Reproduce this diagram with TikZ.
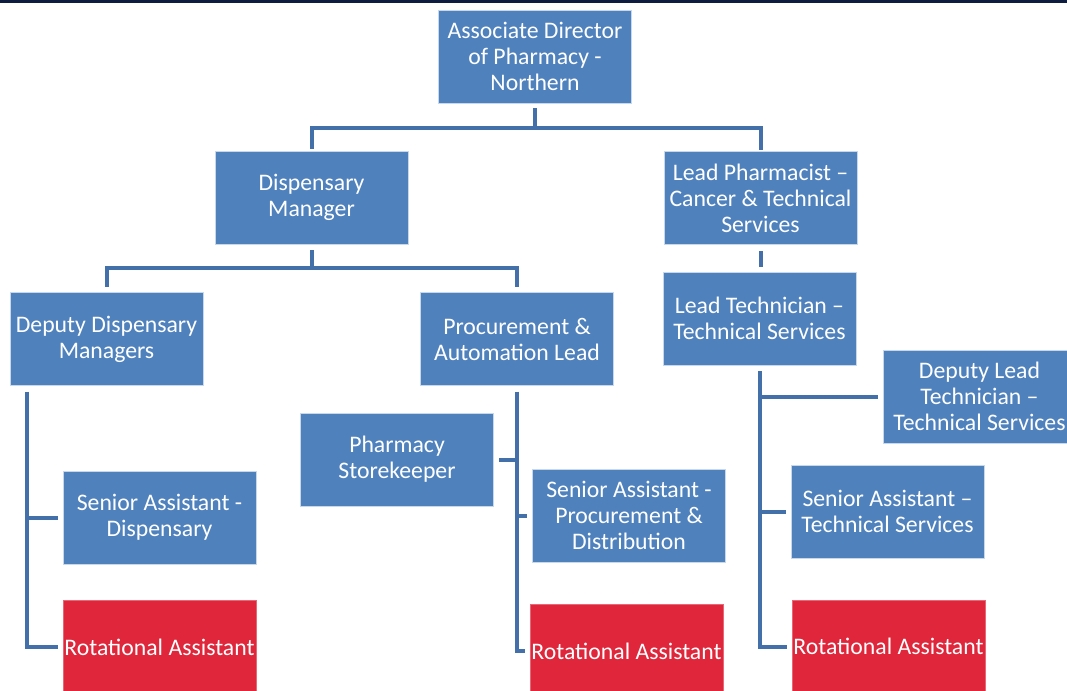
\documentclass[tikz,border=0pt]{standalone}
\usepackage{fontspec}
\setmainfont{Carlito}
\usetikzlibrary{calc}

\definecolor{boxblue}{RGB}{79,129,189}
\definecolor{boxred}{RGB}{224,38,58}
\definecolor{linkblue}{RGB}{68,112,170}
\definecolor{rimblue}{RGB}{200,216,236}
\definecolor{topbar}{RGB}{14,28,64}

\tikzset{
  post/.style={fill=boxblue, draw=rimblue, line width=0.6pt, text=white,
    align=center, inner sep=0pt,
    minimum width=144.75pt, minimum height=69.75pt,
    font=\fontsize{17.8}{19.5}\selectfont},
  rota/.style={post, fill=boxred, draw=boxred!70!white},
  link/.style={draw=linkblue, line width=3pt, shorten >=3.75pt}
}

\begin{document}
\begin{tikzpicture}[x=0.75pt, y=-0.75pt]
    % page frame
    \useasboundingbox (0,0) rectangle (1067,690);
    \clip (0,0) rectangle (1067,690);
    \fill[topbar] (0,0) rectangle (1067,3);

    % draw posts
    \node[post] (adn) at (535,56.5) {Associate Director\\of Pharmacy -\\Northern};
    \node[post] (dm) at (311.5,197.5) {Dispensary\\Manager};
    \node[post] (lp) at (760.5,198) {Lead Pharmacist --\\Cancer \& Technical\\Services};
    \node[post] (lt) at (759.5,318.5) {Lead Technician --\\Technical Services};
    \node[post] (ddm) at (106.5,339) {Deputy Dispensary\\Managers};
    \node[post] (pal) at (517,339) {Procurement \&\\Automation Lead};
    \node[post] (ps) at (397,459.5) {Pharmacy\\Storekeeper};
    \node[post] (sad) at (159.5,517.5) {Senior Assistant -\\Dispensary};
    \node[post] (sapd) at (629,515.5) {Senior Assistant -\\Procurement \&\\Distribution};
    \node[post] (dlt) at (979.5,396.5) {Deputy Lead\\Technician --\\Technical Services};
    \node[post] (sats) at (887.5,511.5) {Senior Assistant --\\Technical Services};
    \node[rota] (ra1) at (159.5,647) {Rotational Assistant};
    \node[rota] (ra2) at (626.5,651) {Rotational Assistant};
    \node[rota] (ra3) at (888.5,646.5) {Rotational Assistant};

    % draw top links
    \draw[link, shorten >=1pt] (adn.south) ++(0,5) -- ++(0,20) -| (dm.north);
    \draw[link, shorten >=1pt] (adn.south) ++(0,25) -| (lp.north);
    \draw[link] (lp.south) ++(0,6) -- (lt.north -| lp.south);
    \draw[link] (dm.south) ++(0,6) -- ++(0,18) -| (ddm.north);
    \draw[link] (dm.south) ++(0,24) -| (pal.north);

    % draw branch links
    \foreach \n in {sad,ra1}
      \draw[link] ($(ddm.south west)+(17,6)$) |- (\n.west);
    \foreach \n/\a in {ps/east,sapd/west,ra2/west}
      \draw[link] (pal.south) ++(0,6) |- (\n.\a);
    \foreach \n in {dlt,sats,ra3}
      \draw[link] (lt.south) ++(0,6) |- (\n.west);
\end{tikzpicture}
\end{document}
